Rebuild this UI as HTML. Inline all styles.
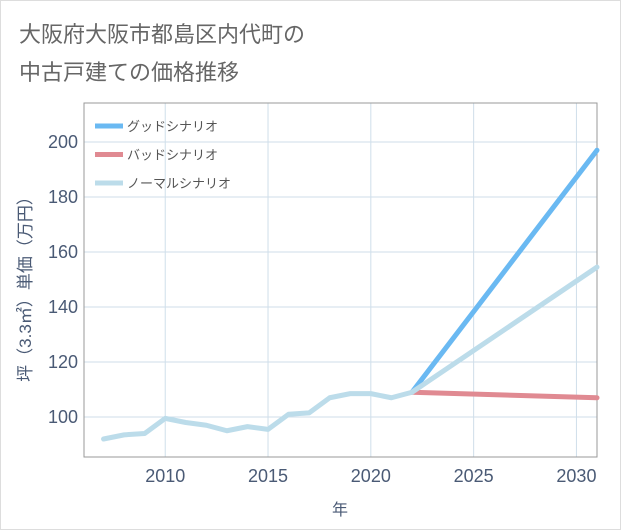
<!DOCTYPE html>
<html><head><meta charset="utf-8"><style>
body{margin:0;background:#fff;}
#wrap{position:relative;width:619px;height:528px;border:1px solid #ddd;background:#fff;overflow:hidden;}
.t{position:absolute;left:18px;font:22px "Liberation Sans","Noto Sans CJK JP",sans-serif;color:#666;}
svg text{font-family:"Liberation Sans","Noto Sans CJK JP",sans-serif;}
</style></head><body>
<div id="wrap">
<div class="t" style="top:16px">大阪府大阪市都島区内代町の</div>
<div class="t" style="top:54px">中古戸建ての価格推移</div>
<svg id="c" width="621" height="530" style="position:absolute;left:-1px;top:-1px"></svg>
</div>
<script>
const years=[2007,2008,2009,2010,2011,2012,2013,2014,2015,2016,2017,2018,2019,2020,2021,2022];
const hist=[92,93.5,94,99.5,98,97,95,96.5,95.5,101,101.5,107,108.5,108.5,107,109];
const fYears=[2022,2031];
const good=[109,197];
const bad=[109,107];
const normal=[109,154.5];
const xTicks=[2010,2015,2020,2025,2030];
const yTicks=[100,120,140,160,180,200];
const L=84,R=597,T=103,B=457;
const x=v=>L+(v-2006.05)*(R-L)/(2031-2006.05);
const y=v=>417-(v-100)*2.75;
const s=document.getElementById('c');const NS='http://www.w3.org/2000/svg';
function el(t,a,p){const e=document.createElementNS(NS,t);for(const k in a)e.setAttribute(k,a[k]);(p||s).appendChild(e);return e;}
let bg=el('rect',{x:L,y:T,width:R-L,height:B-T,fill:'#fff'});


xTicks.forEach(v=>{let g=el('line',{x1:x(v),x2:x(v),y1:T,y2:B,stroke:'#cfdeea','stroke-width':1});


let t=el('text',{x:x(v),y:482,'text-anchor':'middle','font-size':18,fill:'#4a5a75'});t.textContent=v;

});
yTicks.forEach(v=>{let g=el('line',{x1:L,x2:R,y1:y(v),y2:y(v),stroke:'#cfdeea','stroke-width':1});


let t=el('text',{x:78,y:y(v)+6,'text-anchor':'end','font-size':18,fill:'#4a5a75'});t.textContent=v;

});
let fr=el('rect',{x:L,y:T,width:R-L,height:B-T,fill:'none',stroke:'#999','stroke-width':1});


function line(xs,ys,c,name){const p=el('polyline',{points:xs.map((v,i)=>x(v)+','+y(ys[i])).join(' '),fill:'none',stroke:c,'stroke-width':5,'stroke-linecap':'round','stroke-linejoin':'round'});

}
line(fYears,good,'#6ab9f2','good-scenario-line');
line(fYears,bad,'#e08a92','bad-scenario-line');
line(fYears,normal,'#bcdcea','normal-scenario-line');
line(years,hist,'#bcdcea','historical-line');
const leg=[['グッドシナリオ','#6ab9f2'],['バッドシナリオ','#e08a92'],['ノーマルシナリオ','#bcdcea']];
leg.forEach((d,i)=>{const yy=126+i*28.5;
let r=el('line',{x1:95,x2:123,y1:yy,y2:yy,stroke:d[1],'stroke-width':5});


let t=el('text',{x:127,y:yy+5,'font-size':13,fill:'#555'});t.textContent=d[0];

});
let xt=el('text',{x:340,y:515,'text-anchor':'middle','font-size':16,fill:'#4a5a75'});xt.textContent='年';


let yt=el('text',{x:0,y:0,'text-anchor':'middle','font-size':17,fill:'#4a5a75',transform:'translate(31,285) rotate(-90)'});yt.textContent='坪（3.3㎡）単価（万円）';


</script>
</body></html>
